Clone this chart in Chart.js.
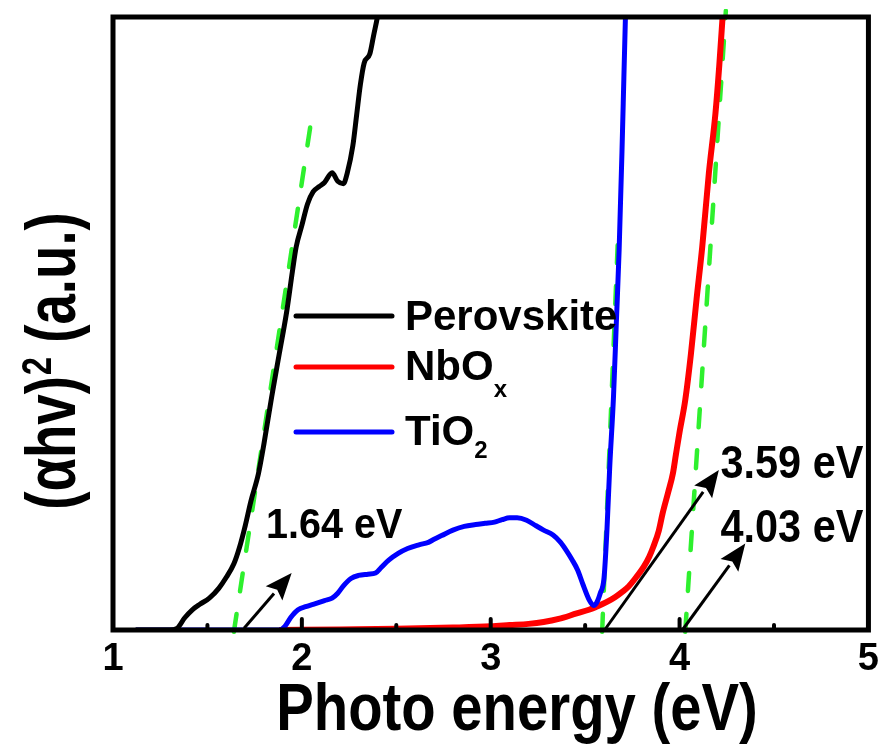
<!DOCTYPE html>
<html>
<head>
<meta charset="utf-8">
<script src="https://cdn.jsdelivr.net/npm/chart.js@4/dist/chart.umd.min.js"></script>
<style>
  html, body { margin: 0; padding: 0; background: #fff; }
</style>
</head>
<body>
<canvas id="myChart" width="886" height="749"></canvas>
<script>
// photon energy (eV) vs (ahv)^2 (a.u.)
const perovskiteX = [1.12, 1.30, 1.34, 1.38, 1.42, 1.46, 1.51, 1.56, 1.60, 1.64, 1.67, 1.70, 1.73, 1.77, 1.80, 1.84, 1.88, 1.92, 1.95, 1.97, 2.00, 2.03, 2.06, 2.09, 2.12, 2.16, 2.19, 2.22, 2.24, 2.27, 2.29, 2.31, 2.33, 2.36, 2.38, 2.40, 2.41];
const perovskiteY = [0, 0, 0.3, 2.0, 3.3, 4.2, 5.2, 6.8, 8.6, 10.8, 13.5, 17, 21, 25.5, 30.5, 38, 45, 52, 58.5, 62.5, 66, 69.5, 71.5, 72.3, 73, 74.6, 73.2, 72.8, 74.5, 79, 84, 89, 92.5, 94, 97, 100, 102];

const tio2X = [1.12, 1.50, 1.88, 1.91, 1.94, 1.98, 2.02, 2.06, 2.12, 2.16, 2.19, 2.22, 2.26, 2.30, 2.35, 2.39, 2.42, 2.46, 2.51, 2.56, 2.62, 2.67, 2.70, 2.74, 2.80, 2.86, 2.92, 2.97, 3.02, 3.06, 3.10, 3.14, 3.19, 3.24, 3.28, 3.33, 3.37, 3.40, 3.43, 3.46, 3.49, 3.52, 3.545, 3.56, 3.58, 3.60, 3.615, 3.63, 3.65, 3.665, 3.68, 3.695, 3.705, 3.715];
const tio2Y = [0, 0, 0, 0.6, 2.0, 3.3, 3.8, 4.2, 4.8, 5.2, 6.0, 7.2, 8.4, 8.9, 9.1, 9.3, 10.2, 11.4, 12.5, 13.3, 13.9, 14.3, 14.8, 15.4, 16.3, 16.9, 17.2, 17.4, 17.6, 18.0, 18.3, 18.3, 17.9, 17.0, 16.3, 15.5, 14.3, 13.0, 11.5, 9.8, 7.3, 5.0, 4.0, 4.4, 6.0, 8.5, 16, 26.5, 38, 50, 62, 78, 90, 102];

const nbox = [1.88, 2.20, 2.50, 2.80, 3.00, 3.10, 3.20, 3.28, 3.36, 3.455, 3.52, 3.56, 3.61, 3.66, 3.70, 3.73, 3.77, 3.81, 3.84, 3.86, 3.89, 3.91, 3.94, 3.965, 3.98, 4.00, 4.03, 4.06, 4.09, 4.12, 4.155, 4.19, 4.21, 4.23];
const nboY = [0, 0.1, 0.2, 0.4, 0.6, 0.8, 1.0, 1.3, 1.8, 2.7, 3.3, 3.8, 4.5, 5.4, 6.3, 7.1, 8.6, 10.3, 12, 13.5, 16.2, 19, 22.5, 25.6, 28.5, 32.3, 37.5, 45, 54, 62.5, 74.5, 84.3, 92, 101];

// linear fits (Tauc extrapolation)
const fitPerovskiteX = [1.64, 2.046];
const fitPerovskiteY = [-0.3, 82.4];
const fitTio2X = [3.59, 3.675];
const fitTio2Y = [-0.3, 65];
const fitNboX = [4.03, 4.245];
const fitNboY = [-0.3, 101];

// x axis ticks
const xTicks = [1, 2, 3, 4, 5];
const xMinorTicks = [1.5, 2.5, 3.5, 4.5];

// band gap labels and arrows (data coordinates)
const gapLabels = ['1.64 eV', '3.59 eV', '4.03 eV'];
const gapLabelX = [1.81, 4.217, 4.217];
const gapLabelY = [15.0, 24.8, 14.35];
const arrowFromX = [1.694, 3.603, 4.015];
const arrowFromY = [0.3, 0, 0];
const arrowToX = [1.946, 4.208, 4.348];
const arrowToY = [9.3, 26.1, 14.1];

const seriesNames = ['Perovskite', 'NbO', 'TiO'];
const seriesSubs = ['', 'x', '2'];

const FONT = "'Liberation Sans', Arial, sans-serif";

function pts(xs, ys) {
    return xs.map((x, i) => ({ x: x, y: ys[i] }));
}

function curve(label, xs, ys, color, width) {
    return {
        label: label,
        data: pts(xs, ys),
        borderColor: color,
        borderWidth: width,
        pointRadius: 0,
        cubicInterpolationMode: 'monotone',
        fill: false
    };
}

function fitLine(xs, ys) {
    return {
        label: 'fit',
        data: pts(xs, ys),
        borderColor: '#2ef02e',
        borderWidth: 4.5,
        borderDash: [18, 23],
        borderCapStyle: 'round',
        pointRadius: 0,
        fill: false,
        clip: 8
    };
}

// squeezed bold text, the figure uses a narrow looking font
function squeezeText(ctx, text, px, py, size, sx, align) {
    ctx.save();
    ctx.translate(px, py);
    ctx.scale(sx, 1);
    ctx.font = 'bold ' + size + 'px ' + FONT;
    ctx.textAlign = align;
    ctx.textBaseline = 'alphabetic';
    ctx.fillText(text, 0, 0);
    ctx.restore();
}

function drawArrow(ctx, x0, y0, x1, y1) {
    const ang = Math.atan2(y1 - y0, x1 - x0);
    const headLen = 27, headW = 11;
    const bx = x1 - headLen * Math.cos(ang);
    const by = y1 - headLen * Math.sin(ang);
    ctx.beginPath();
    ctx.moveTo(x0, y0);
    ctx.lineTo(bx, by);
    ctx.stroke();
    ctx.beginPath();
    ctx.moveTo(x1, y1);
    ctx.lineTo(bx + headW * Math.sin(ang), by - headW * Math.cos(ang));
    ctx.lineTo(x1 - headLen * 0.82 * Math.cos(ang), y1 - headLen * 0.82 * Math.sin(ang));
    ctx.lineTo(bx - headW * Math.sin(ang), by + headW * Math.cos(ang));
    ctx.closePath();
    ctx.fill();
}

const decor = {
    id: 'decor',
    afterDatasetsDraw(chart) {
        const { ctx, chartArea: a, scales: { x, y } } = chart;
        ctx.save();
        ctx.fillStyle = '#000';
        ctx.strokeStyle = '#000';

        // frame
        ctx.lineWidth = 5;
        ctx.strokeRect(a.left, a.top, a.right - a.left, a.bottom - a.top);

        // inward ticks
        ctx.lineWidth = 4;
        ctx.lineCap = 'round';
        xTicks.concat(xMinorTicks).forEach(v => {
            const px = x.getPixelForValue(v);
            if (px <= a.left + 2 || px >= a.right - 2) return;
            const len = xTicks.includes(v) ? 11 : 5;
            ctx.beginPath();
            ctx.moveTo(px, a.bottom);
            ctx.lineTo(px, a.bottom - len);
            ctx.stroke();
        });

        // arrows
        ctx.lineWidth = 3;
        ctx.lineCap = 'butt';
        arrowFromX.forEach((v, i) => {
            drawArrow(ctx,
                x.getPixelForValue(v), y.getPixelForValue(arrowFromY[i]),
                x.getPixelForValue(arrowToX[i]), y.getPixelForValue(arrowToY[i]));
        });

        // band gap labels
        gapLabels.forEach((t, i) => {
            const size = i === 0 ? 43 : 46;
            squeezeText(ctx, t, x.getPixelForValue(gapLabelX[i]), y.getPixelForValue(gapLabelY[i]), size, i === 0 ? 0.92 : 0.9, 'left');
        });

        // legend
        const colors = chart.data.datasets.slice(0, 3).map(d => d.borderColor);
        const order = [0, 2, 1]; // datasets are perovskite, TiO2, NbOx
        const lineY = [316, 367, 432];
        const textY = [330, 380, 445];
        const subY = [0, 397, 458];
        ctx.lineWidth = 5;
        ctx.lineCap = 'round';
        seriesNames.forEach((name, i) => {
            ctx.strokeStyle = colors[order[i]];
            ctx.beginPath();
            ctx.moveTo(296, lineY[i]);
            ctx.lineTo(392, lineY[i]);
            ctx.stroke();
            ctx.font = 'bold 42px ' + FONT;
            ctx.textAlign = 'left';
            ctx.textBaseline = 'alphabetic';
            ctx.fillText(name, 405, textY[i]);
            if (seriesSubs[i]) {
                const w = ctx.measureText(name).width;
                ctx.font = 'bold 24px ' + FONT;
                ctx.fillText(seriesSubs[i], 405 + w, subY[i]);
            }
        });

        // x axis title
        squeezeText(ctx, 'Photo energy (eV)', 517, 730, 67, 0.84, 'center');

        // y axis title with a real superscript
        ctx.save();
        ctx.translate(75, 361);
        ctx.rotate(-Math.PI / 2);
        ctx.scale(0.78, 1);
        ctx.textAlign = 'left';
        ctx.textBaseline = 'alphabetic';
        const big = 'bold 70px ' + FONT, small = 'bold 42px ' + FONT;
        ctx.font = big;
        const w1 = ctx.measureText('(\u03b1hv)').width;
        const w3 = ctx.measureText(' (a.u.)').width;
        ctx.font = small;
        const w2 = ctx.measureText('2').width;
        let cx = -(w1 + w2 + w3) / 2;
        ctx.font = big;
        ctx.fillText('(\u03b1hv)', cx, 0);
        cx += w1;
        ctx.font = small;
        ctx.fillText('2', cx + 1, -24);
        cx += w2;
        ctx.font = big;
        ctx.fillText(' (a.u.)', cx, 0);
        ctx.restore();

        ctx.restore();
    }
};

const ctx = document.getElementById('myChart').getContext('2d');
window.myChart = new Chart(ctx, {
    type: 'line',
    data: {
        datasets: [
            curve('Perovskite', perovskiteX, perovskiteY, '#000000', 5),
            curve('TiO2', tio2X, tio2Y, '#0000ff', 5),
            curve('NbOx', nbox, nboY, '#ff0000', 6),
            fitLine(fitPerovskiteX, fitPerovskiteY),
            fitLine(fitTio2X, fitTio2Y),
            fitLine(fitNboX, fitNboY)
        ]
    },
    options: {
        responsive: false,
        animation: false,
        layout: { padding: { left: 113, top: 17, right: 12, bottom: 0 } },
        plugins: {
            legend: { display: false },
            tooltip: { enabled: false }
        },
        scales: {
            x: {
                type: 'linear',
                min: 1,
                max: 5,
                afterFit: s => { s.height = 119; },
                afterBuildTicks: s => { s.ticks = xTicks.map(v => ({ value: v })); },
                grid: { display: false, drawTicks: false },
                border: { display: false },
                ticks: {
                    padding: 7,
                    color: '#000',
                    font: { family: FONT, size: 38, weight: 'bold' }
                }
            },
            y: {
                type: 'linear',
                min: 0,
                max: 100,
                display: false
            }
        }
    },
    plugins: [decor]
});
</script>
</body>
</html>
